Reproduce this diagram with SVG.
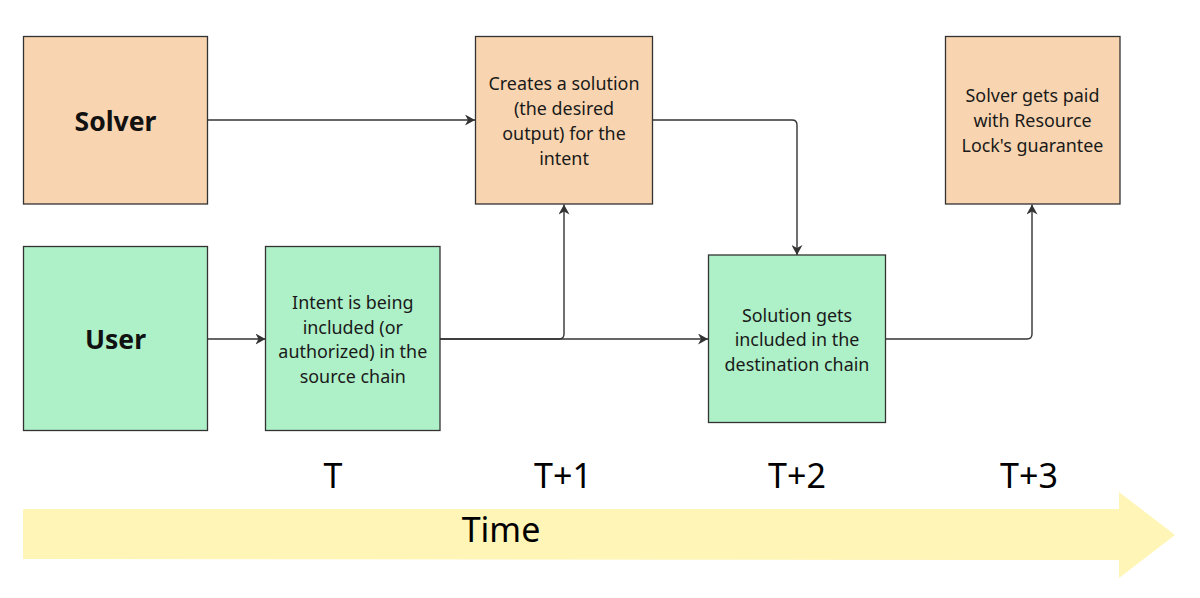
<svg xmlns="http://www.w3.org/2000/svg" width="1200" height="598" viewBox="0 0 1200 598">
<defs>
<style>
.box{stroke:#333;stroke-width:1.3}
.orange{fill:#f8d5b0}
.green{fill:#aef0c8}
.t{font-family:"Noto Sans","Open Sans",sans-serif;font-size:17.9px;fill:#1a1a1a;text-anchor:middle}
.b{font-family:"Noto Sans","Open Sans",sans-serif;font-size:26.5px;font-weight:bold;fill:#111;text-anchor:middle}
.lbl{font-family:"Noto Sans","Open Sans",sans-serif;font-size:34px;fill:#000;text-anchor:middle}
.c{fill:none;stroke:#333;stroke-width:1.4}
</style>
<marker id="ah" markerWidth="11" markerHeight="11" refX="10" refY="5.5" orient="auto" markerUnits="userSpaceOnUse">
<path d="M0,0 L10,5.5 L0,11 L3,5.5 z" fill="#333"/>
</marker>
</defs>
<rect width="1200" height="598" fill="#fff"/>
<g id="timeline">
<path d="M23,509 L1119,509 L1119,492 L1175,535 L1119,578 L1119,560 L23,559 z" fill="#fef5b6"/>
<text class="lbl" x="501" y="542">Time</text>
<text class="lbl" x="333" y="488">T</text>
<text class="lbl" x="563" y="488">T+1</text>
<text class="lbl" x="797" y="488">T+2</text>
<text class="lbl" x="1029" y="488">T+3</text>
</g>
<g id="connectors">
<path class="c" d="M207.5,120 L475,120" marker-end="url(#ah)"/>
<path class="c" d="M653,120 L792,120 Q797,120 797,125 L797,255" marker-end="url(#ah)"/>
<path class="c" d="M207.5,339 L265.5,339" marker-end="url(#ah)"/>
<path class="c" d="M440,339 L559,339 Q564,339 564,334 L564,204.5" marker-end="url(#ah)"/>
<path class="c" d="M440,339 L708,339" marker-end="url(#ah)"/>
<path class="c" d="M886,339 L1027,339 Q1032,339 1032,334 L1032,204.5" marker-end="url(#ah)"/>
</g>
<g id="solver">
<rect class="box orange" x="23.5" y="36.5" width="184" height="167.5"/>
<text class="b" x="115.5" y="131">Solver</text>
</g>
<g id="creates">
<rect class="box orange" x="475.5" y="36.5" width="177" height="167.5"/>
<text class="t" x="564" y="90">Creates a solution</text>
<text class="t" x="564" y="115">(the desired</text>
<text class="t" x="564" y="140">output) for the</text>
<text class="t" x="564" y="164.5">intent</text>
</g>
<g id="paid">
<rect class="box orange" x="945.5" y="36.5" width="174.5" height="167.5"/>
<text class="t" x="1032.5" y="102">Solver gets paid</text>
<text class="t" x="1032.5" y="127">with Resource</text>
<text class="t" x="1032.5" y="152">Lock's guarantee</text>
</g>
<g id="user">
<rect class="box green" x="23.5" y="246.5" width="184" height="184"/>
<text class="b" x="115.5" y="349">User</text>
</g>
<g id="intent">
<rect class="box green" x="265.5" y="246.5" width="174.5" height="184"/>
<text class="t" x="352.8" y="309">Intent is being</text>
<text class="t" x="352.8" y="333.5">included (or</text>
<text class="t" x="352.8" y="358">authorized) in the</text>
<text class="t" x="352.8" y="382.5">source chain</text>
</g>
<g id="solution">
<rect class="box green" x="708.5" y="255" width="177" height="167.5"/>
<text class="t" x="797" y="321.5">Solution gets</text>
<text class="t" x="797" y="346">included in the</text>
<text class="t" x="797" y="370.5">destination chain</text>
</g>
</svg>
